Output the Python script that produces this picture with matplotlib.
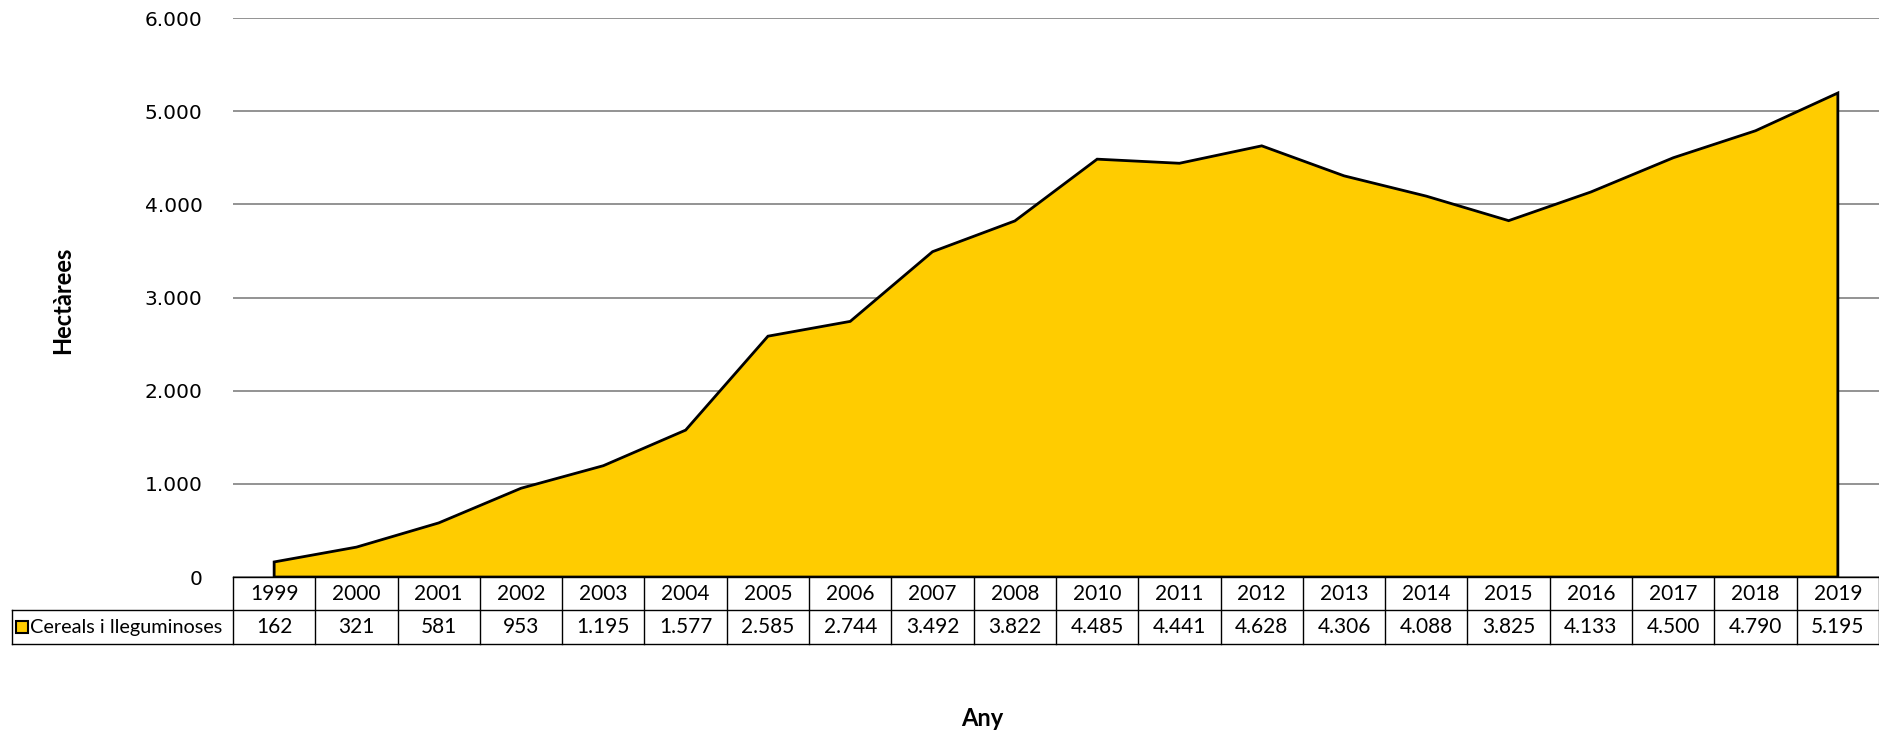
import matplotlib
matplotlib.use('Agg')
import matplotlib.pyplot as plt
import matplotlib.transforms as mtransforms
from matplotlib.lines import Line2D

years = ['1999', '2000', '2001', '2002', '2003', '2004', '2005', '2006', '2007', '2008',
         '2010', '2011', '2012', '2013', '2014', '2015', '2016', '2017', '2018', '2019']
hectares = [162, 321, 581, 953, 1195, 1577, 2585, 2744, 3492, 3822,
            4485, 4441, 4628, 4306, 4088, 3825, 4133, 4500, 4790, 5195]
series_name = 'Cereals i lleguminoses'
yticks = [0, 1000, 2000, 3000, 4000, 5000, 6000]

FILL = '#FFCC00'
TABLE_FONT = 'Lato'


def fmt(v):
    return f'{v:,}'.replace(',', '.')


fig = plt.figure(figsize=(18.79, 7.32), dpi=100)
ax = fig.add_axes([0.124, 0.2117, 0.876, 0.7637])

xs = list(range(len(years)))
# closed polygon so the outline also runs down the ends and along the bottom
poly_x = [xs[0]] + xs + [xs[-1], xs[0]]
poly_y = [0] + hectares + [0, 0]
ax.fill(poly_x, poly_y, facecolor=FILL, edgecolor='black', linewidth=2, zorder=3)

ax.set_xlim(-0.5, len(years) - 0.5)
ax.set_ylim(0, 6000)
ax.set_yticks(yticks)
ax.set_yticklabels([fmt(v) for v in yticks], fontsize=14.5)
ax.set_xticks([])
ax.tick_params(axis='y', length=0, pad=22)
ax.yaxis.grid(True, color='#808080', linewidth=1.2, zorder=1)
ax.set_axisbelow(True)
for s in ax.spines.values():
    s.set_visible(False)

# data table under the plot
blend = mtransforms.blended_transform_factory(ax.transData, ax.transAxes)
y_top, y_mid, y_bot = 0.0, -0.059, -0.12
x_lab = -0.1343
kw = dict(color='black', linewidth=1, clip_on=False)

ax.add_line(Line2D([-0.5, len(years) - 0.5], [y_top, y_top], transform=blend, **kw))
for yy in (y_mid, y_bot):
    ax.add_line(Line2D([x_lab, 1.0], [yy, yy], transform=ax.transAxes, **kw))
for i in range(len(years) + 1):
    ax.add_line(Line2D([i - 0.5, i - 0.5], [y_top, y_bot], transform=blend, **kw))
ax.add_line(Line2D([x_lab, x_lab], [y_mid, y_bot], transform=ax.transAxes, **kw))

for i, (yr, v) in enumerate(zip(years, hectares)):
    ax.text(i, (y_top + y_mid) / 2, yr, transform=blend, ha='center', va='center',
            fontsize=15, family=TABLE_FONT)
    ax.text(i, (y_mid + y_bot) / 2, fmt(v), transform=blend, ha='center', va='center',
            fontsize=15, family=TABLE_FONT)

ax.add_line(Line2D([-0.1282], [(y_mid + y_bot) / 2], marker='s', markersize=9,
                   markerfacecolor=FILL, markeredgecolor='black', markeredgewidth=1.5,
                   transform=ax.transAxes, clip_on=False))
ax.text(-0.1235, (y_mid + y_bot) / 2, series_name, transform=ax.transAxes,
        ha='left', va='center', fontsize=14.3, family=TABLE_FONT)

fig.text(63 / 1879, 0.59, 'Hectàrees', rotation=90, ha='center', va='center',
         fontsize=17, fontweight='bold', family=TABLE_FONT)
fig.text(0.523, 0.018, 'Any', ha='center', va='center',
         fontsize=17, fontweight='bold', family=TABLE_FONT)

fig.savefig('out.png', dpi=100)
